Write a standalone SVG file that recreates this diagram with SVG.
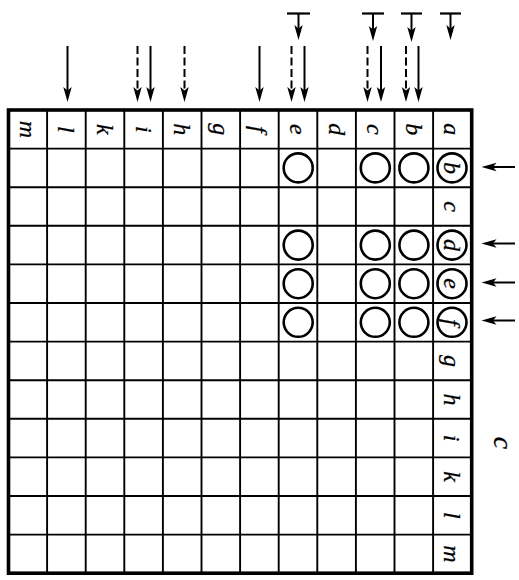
<svg xmlns="http://www.w3.org/2000/svg" width="519" height="580" viewBox="0 0 519 580">
<defs>
<marker id="ah" markerUnits="userSpaceOnUse" markerWidth="17" markerHeight="10" refX="10" refY="5" orient="auto" viewBox="0 0 17 10">
<path d="M0,0.8 L15,5 L0,9.2 L3.5,5 Z" fill="#000"/>
</marker>
<style>
.g{stroke:#000;stroke-width:1.9;fill:none}
.b{stroke:#000;stroke-width:3.6;fill:none}
.a{stroke:#000;stroke-width:2;fill:none;marker-end:url(#ah)}
.d{stroke-dasharray:8 3.5}
.t{stroke:#000;stroke-width:2.2}
.c{stroke:#000;stroke-width:2.6;fill:none}
text{font-family:"Liberation Serif","DejaVu Serif",serif;font-style:italic;font-size:24px;fill:#000;stroke:#000;stroke-width:0.25;text-anchor:middle;dominant-baseline:central}
</style>
</defs>
<g id="grid">
<path class="g" d="M47.1,110V573.2M85.7,110V573.2M124.3,110V573.2M162.9,110V573.2M201.5,110V573.2M240.1,110V573.2M278.7,110V573.2M317.3,110V573.2M355.9,110V573.2M394.5,110V573.2M433.1,110V573.2"/>
<path class="g" d="M8.5,148.6H471.7M8.5,187.2H471.7M8.5,225.8H471.7M8.5,264.4H471.7M8.5,303H471.7M8.5,341.6H471.7M8.5,380.2H471.7M8.5,418.8H471.7M8.5,457.4H471.7M8.5,496H471.7M8.5,534.6H471.7"/>
<rect class="b" x="8.5" y="110" width="463.2" height="463.2"/>
</g>
<g id="header">
<text transform="translate(27.8,129.3) rotate(90)">m</text>
<text transform="translate(66.4,129.3) rotate(90)">l</text>
<text transform="translate(105,129.3) rotate(90)">k</text>
<text transform="translate(143.6,129.3) rotate(90)">i</text>
<text transform="translate(182.2,129.3) rotate(90)">h</text>
<text transform="translate(220.8,129.3) rotate(90)">g</text>
<text transform="translate(259.4,129.3) rotate(90)">f</text>
<text transform="translate(298,129.3) rotate(90)">e</text>
<text transform="translate(336.6,129.3) rotate(90)">d</text>
<text transform="translate(375.2,129.3) rotate(90)">c</text>
<text transform="translate(413.8,129.3) rotate(90)">b</text>
<text transform="translate(452.4,129.3) rotate(90)">a</text>
</g>
<g id="rowlabels">
<text transform="translate(452.4,167.9) rotate(90)">b</text>
<text transform="translate(452.4,206.5) rotate(90)">c</text>
<text transform="translate(452.4,245.1) rotate(90)">d</text>
<text transform="translate(452.4,283.7) rotate(90)">e</text>
<text transform="translate(452.4,322.3) rotate(90)">f</text>
<text transform="translate(452.4,360.9) rotate(90)">g</text>
<text transform="translate(452.4,399.5) rotate(90)">h</text>
<text transform="translate(452.4,438.1) rotate(90)">i</text>
<text transform="translate(452.4,476.7) rotate(90)">k</text>
<text transform="translate(452.4,515.3) rotate(90)">l</text>
<text transform="translate(452.4,553.9) rotate(90)">m</text>
</g>
<g id="circles">
<circle class="c" cx="298.2" cy="167.9" r="14.5"/><circle class="c" cx="375.3" cy="167.9" r="14.5"/><circle class="c" cx="413.9" cy="167.9" r="14.5"/><circle class="c" cx="452" cy="167.9" r="14.5"/>
<circle class="c" cx="298.2" cy="245.1" r="14.5"/><circle class="c" cx="375.3" cy="245.1" r="14.5"/><circle class="c" cx="413.9" cy="245.1" r="14.5"/><circle class="c" cx="452" cy="245.1" r="14.5"/>
<circle class="c" cx="298.2" cy="283.7" r="14.5"/><circle class="c" cx="375.3" cy="283.7" r="14.5"/><circle class="c" cx="413.9" cy="283.7" r="14.5"/><circle class="c" cx="452" cy="283.7" r="14.5"/>
<circle class="c" cx="298.2" cy="322.3" r="14.5"/><circle class="c" cx="375.3" cy="322.3" r="14.5"/><circle class="c" cx="413.9" cy="322.3" r="14.5"/><circle class="c" cx="452" cy="322.3" r="14.5"/>
</g>
<g id="connectors">
<line class="a" x1="67.5" y1="46" x2="67.5" y2="97"/>
<line class="a d" x1="137.5" y1="46" x2="137.5" y2="97"/>
<line class="a" x1="150.5" y1="46" x2="150.5" y2="97"/>
<line class="a d" x1="184.5" y1="46" x2="184.5" y2="97"/>
<line class="a" x1="259.5" y1="46" x2="259.5" y2="97"/>
<line class="a d" x1="291.5" y1="46" x2="291.5" y2="97"/>
<line class="a" x1="304.5" y1="46" x2="304.5" y2="97"/>
<line class="a d" x1="367.5" y1="46" x2="367.5" y2="97"/>
<line class="a" x1="381" y1="46" x2="381" y2="97"/>
<line class="a d" x1="406" y1="46" x2="406" y2="97"/>
<line class="a" x1="418.5" y1="46" x2="418.5" y2="97"/>
<line class="t" x1="287" y1="13.5" x2="310" y2="13.5"/><line class="a" x1="298.5" y1="13.5" x2="298.5" y2="35"/>
<line class="t" x1="362" y1="13.5" x2="384" y2="13.5"/><line class="a" x1="373" y1="13.5" x2="373" y2="36"/>
<line class="t" x1="401" y1="13.5" x2="422" y2="13.5"/><line class="a" x1="411.5" y1="13.5" x2="411.5" y2="37"/>
<line class="t" x1="440" y1="13.5" x2="461" y2="13.5"/><line class="a" x1="450.5" y1="13.5" x2="450.5" y2="35"/>
<line class="a" x1="515" y1="167" x2="486.5" y2="167"/>
<line class="a" x1="515" y1="243.5" x2="486.5" y2="243.5"/>
<line class="a" x1="515" y1="282.5" x2="486.5" y2="282.5"/>
<line class="a" x1="515" y1="320.5" x2="486.5" y2="320.5"/>
</g>
<g id="label-c">
<text transform="translate(503,443) rotate(90)" style="font-size:28px">c</text>
</g>
</svg>
